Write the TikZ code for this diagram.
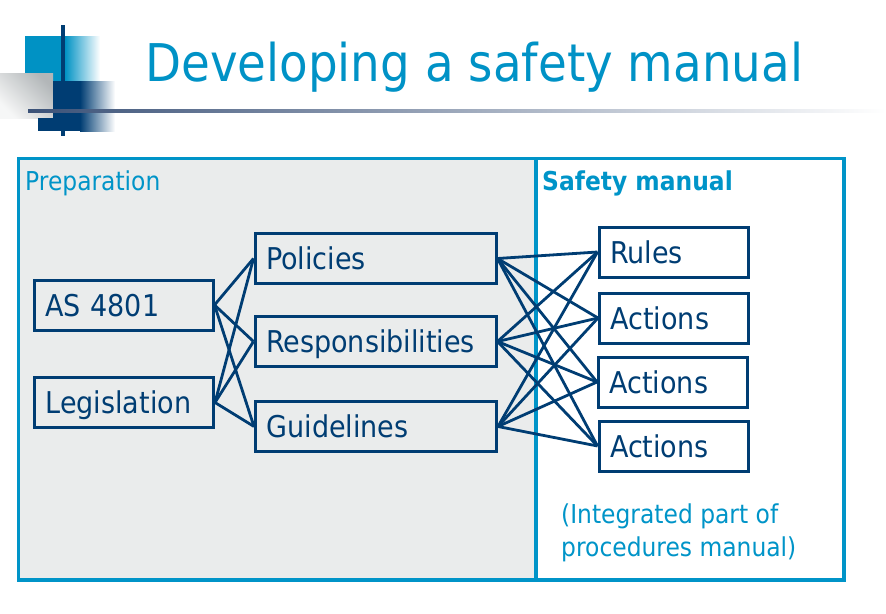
\documentclass[tikz,border=0pt]{standalone}
\usepackage{fontspec}
\setmainfont{DejaVu Sans}[FakeStretch=0.9]
\definecolor{navy}{RGB}{0,61,115}
\definecolor{cyanb}{RGB}{0,148,200}
\definecolor{titleb}{RGB}{0,146,198}
\definecolor{bggray}{RGB}{234,236,236}
\definecolor{slate}{RGB}{59,82,120}
\definecolor{lblue}{RGB}{0,146,196}
\definecolor{gdark}{RGB}{178,182,184}
\definecolor{glight}{RGB}{246,247,247}
\begin{document}
\begin{tikzpicture}[x=1pt,y=-1pt,
  box/.style={draw=navy, line width=3pt, minimum height=50, text height=22, text depth=0,
    inner xsep=11, inner ysep=0, align=left, text=navy, font=\fontsize{30}{36}\selectfont},
  lbox/.style={box, text width=157},
  mbox/.style={box, text width=219},
  rbox/.style={box, text width=127},
  link/.style={draw=navy, line width=2.8pt},
  lbl/.style={anchor=base west, inner sep=0, text=cyanb, font=\fontsize{26}{31}\selectfont}]
\useasboundingbox (0,0) rectangle (886,613);
% decoration top-left
\fill[lblue] (25,36) rectangle (65,81);
\shade[left color=lblue, right color=white] (65,36) rectangle (100,81);
\shade[top color=gdark, bottom color=glight, shading angle=-45] (0,73) rectangle (53,118);
\fill[navy] (53,81) rectangle (80,131);
\fill[navy] (38,118) rectangle (80,131);
\shade[left color=navy, right color=white] (80,81) rectangle (115,131);
\fill[navy] (61,25) rectangle (65,136);
\shade[left color=slate, right color=white] (28,109) rectangle (886,112.5);
% title
\node[anchor=base west, inner sep=0, text=titleb, font=\fontsize{52}{60}\selectfont] (title) at (145,81) {Developing a safety manual};
% panels
\fill[bggray] (18.5,158.5) rectangle (536,580);
\draw[cyanb, line width=3.5pt] (18.5,158.5) rectangle (844,580);
\draw[cyanb, line width=3.5pt] (536,158.5) -- (536,580);
\node[lbl] (prep) at (25,190) {Preparation};
\node[lbl, font=\bfseries\fontsize{26}{31}\selectfont] (sm) at (542,190) {Safety manual};
\node[lbl] (note1) at (561,523) {(Integrated part of};
\node[lbl] (note2) at (561,556) {procedures manual)};
% boxes
\node[lbox] (as) at (123.5,305) {AS 4801};
\node[lbox] (leg) at (124,402.5) {Legislation};
\node[mbox] (pol) at (375.5,258.5) {Policies};
\node[mbox] (resp) at (375.5,341.5) {Responsibilities};
\node[mbox] (guid) at (376,426.5) {Guidelines};
\node[rbox] (rules) at (673.5,252) {Rules};
\node[rbox] (act1) at (674,318) {Actions};
\node[rbox] (act2) at (673,382) {Actions};
\node[rbox] (act3) at (673.5,446) {Actions};
% connectors
\foreach \a in {as,leg} \foreach \b in {pol,resp,guid} \draw[link] (\a.east) -- (\b.west);
\foreach \a in {pol,resp,guid} \foreach \b in {rules,act1,act2,act3} \draw[link] (\a.east) -- (\b.west);
\end{tikzpicture}
\end{document}
